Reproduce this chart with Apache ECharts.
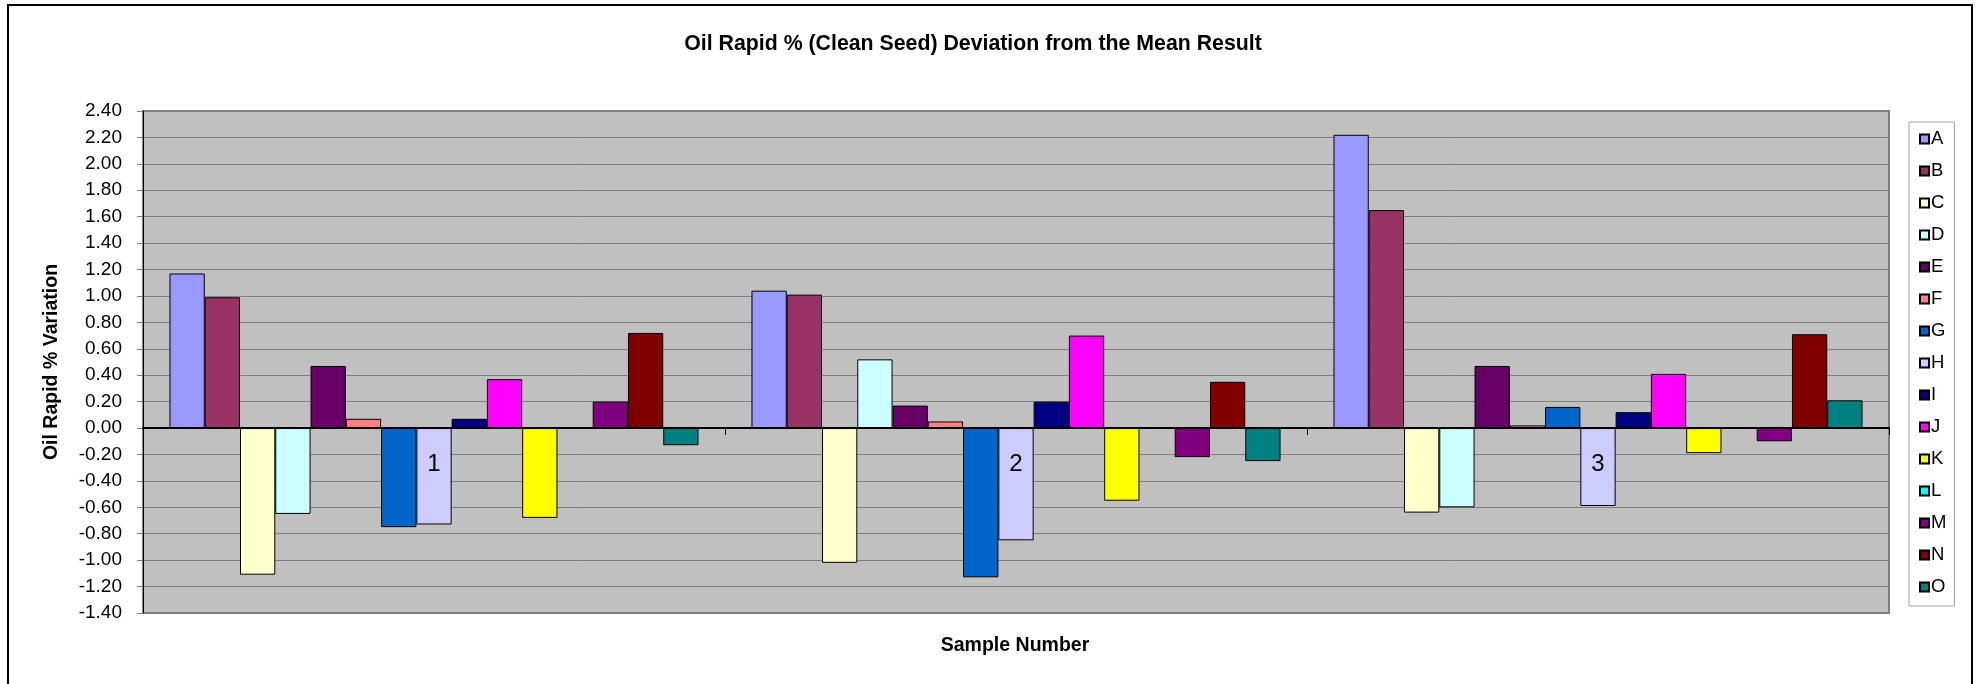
<!DOCTYPE html>
<html>
<head>
<meta charset="utf-8">
<script src="https://cdn.jsdelivr.net/npm/echarts@6/dist/echarts.min.js"></script>
<style>
html,body{margin:0;padding:0;background:#fff;}
#chart{width:1977px;height:684px;}
</style>
</head>
<body>
<div id="chart"></div>
<script>
var categories = ['1', '2', '3'];
var seriesNames = ['A','B','C','D','E','F','G','H','I','J','K','L','M','N','O'];
var A = [1.17, 1.04, 2.22];
var B = [0.99, 1.01, 1.65];
var C = [-1.11, -1.02, -0.64];
var D = [-0.65, 0.52, -0.60];
var E = [0.47, 0.17, 0.47];
var F = [0.07, 0.05, 0.02];
var G = [-0.75, -1.13, 0.16];
var H = [-0.73, -0.85, -0.59];
var I = [0.07, 0.20, 0.12];
var J = [0.37, 0.70, 0.41];
var K = [-0.68, -0.55, -0.19];
var L = [0, 0, 0];
var M = [0.20, -0.22, -0.10];
var N = [0.72, 0.35, 0.71];
var O = [-0.13, -0.25, 0.21];
var seriesValues = [A,B,C,D,E,F,G,H,I,J,K,L,M,N,O];
var colors = ['#9999FF','#993366','#FFFFCC','#CCFFFF','#660066','#FF8080','#0066CC','#CCCCFF','#000080','#FF00FF','#FFFF00','#00FFFF','#800080','#800000','#008080'];
var yMin = -1.4, yMax = 2.4, yStep = 0.2;
var titleText = 'Oil Rapid % (Clean Seed) Deviation from the Mean Result';
var xTitle = 'Sample Number';
var yTitle = 'Oil Rapid % Variation';

var FONT = '"Liberation Sans", Arial, sans-serif';
var chart = echarts.init(document.getElementById('chart'), null, {renderer: 'canvas'});

var series = seriesNames.map(function (name, i) {
  return {
    name: name,
    type: 'bar',
    data: seriesValues[i],
    barGap: '0%',
    barCategoryGap: '9.1%',
    itemStyle: {color: colors[i], borderColor: '#000', borderWidth: 1},
    emphasis: {disabled: true}
  };
});

chart.setOption({
  animation: false,
  backgroundColor: '#fff',
  textStyle: {fontFamily: FONT},
  grid: {
    left: 143, right: 88, top: 111, bottom: 71,
    show: true, backgroundColor: '#C0C0C0', borderColor: '#808080', borderWidth: 2
  },
  legend: {
    orient: 'vertical',
    left: 1909, top: 122,
    padding: [7, 8, 9, 10],
    backgroundColor: '#fff',
    borderColor: '#a0a0a0', borderWidth: 1,
    itemWidth: 9, itemHeight: 9, itemGap: 12,
    icon: 'rect',
    textStyle: {fontFamily: FONT, fontSize: 18.5, color: '#000', lineHeight: 20, padding: [0, 0, 0, -3]},
    data: seriesNames
  },
  xAxis: {
    type: 'category',
    data: categories,
    z: 10,
    axisLine: {onZero: true, lineStyle: {color: '#000', width: 2}},
    axisTick: {show: true, length: 7, lineStyle: {color: '#000', width: 1}},
    axisLabel: {fontFamily: FONT, fontSize: 24, color: '#000', margin: -161},
    splitLine: {show: false}
  },
  yAxis: {
    type: 'value',
    min: yMin, max: yMax, interval: yStep,
    name: yTitle,
    nameLocation: 'middle',
    nameGap: 81,
    nameRotate: 90,
    nameTextStyle: {fontFamily: FONT, fontSize: 19.5, fontWeight: 'bold', color: '#000'},
    axisLine: {show: true, onZero: false, lineStyle: {color: '#000', width: 1}},
    axisTick: {show: true, length: 6, lineStyle: {color: '#808080'}},
    axisLabel: {fontFamily: FONT, fontSize: 19, color: '#000', margin: 21,
      formatter: function (v) { return v.toFixed(2); }},
    splitLine: {show: true, lineStyle: {color: '#808080', width: 1}}
  },
  graphic: [
    {type: 'rect', shape: {x: 8, y: 5, width: 1964, height: 700}, style: {fill: 'none', stroke: '#000', lineWidth: 2}, z: 100, silent: true},
    {type: 'text', x: 973, y: 44, style: {text: titleText, font: 'bold 21.3px ' + FONT, fill: '#000', textAlign: 'center', textVerticalAlign: 'middle'}},
    {type: 'text', x: 1015, y: 646, style: {text: xTitle, font: 'bold 19.5px ' + FONT, fill: '#000', textAlign: 'center', textVerticalAlign: 'middle'}}
  ],
  series: series
});
</script>
</body>
</html>
